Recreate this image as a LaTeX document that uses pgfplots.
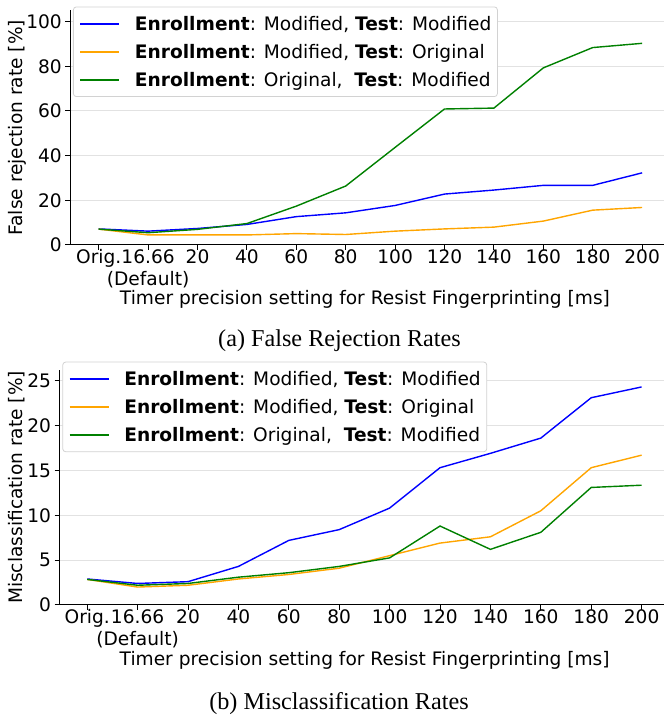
\documentclass[border=0pt]{standalone}
\usepackage{fontspec}
\setmainfont{DejaVu Sans}
\newfontfamily\capfont{Liberation Serif}
\usepackage{pgfplots}
\pgfplotsset{compat=1.18}
\definecolor{mblue}{RGB}{0,0,255}
\definecolor{morange}{RGB}{255,165,0}
\definecolor{mgreen}{RGB}{0,128,0}
\definecolor{gridc}{RGB}{226,226,226}
\definecolor{legc}{RGB}{210,210,210}
\newcommand\fs{\fontsize{18.6}{22}\selectfont}
\pgfplotsset{
  legend image code/.code={\draw[#1, line width=1.6pt] (0pt,0pt) -- (39pt,0pt);},
  every axis plot/.append style={line width=1.4pt},
}
\pgfplotsset{
 mystyle/.style={
  scale only axis, anchor=south west,
  axis x line*=bottom, axis y line*=left,
  axis line style={line width=1pt, black},
  tick align=outside, major tick length=4.7pt,
  every tick/.style={black, line width=1pt},
  ymajorgrids, grid style={gridc, line width=1pt},
  xtick={0,...,11},
  xticklabels={Orig.,{16.66\\(Default)},20,40,60,80,100,120,140,160,180,200},
  xticklabel style={align=center, yshift=4pt},
  /pgf/number format/assume math mode=true,
  tick label style={font=\fs},
  label style={font=\fs},
  legend cell align=left,
  legend style={anchor=north west, draw=legc, line width=0.8pt, rounded corners=3pt,
    fill=white,
    inner xsep=6pt, inner ysep=9pt, row sep=12.4pt, column sep=15pt,
    nodes={inner sep=0pt, font=\fs}},
 }
}
\begin{document}
\begin{tikzpicture}
\path[use as bounding box] (0,0) rectangle (664pt,717pt);
% top
\begin{axis}[mystyle, at={(70pt,472pt)}, width=594pt, height=234.5pt,
  xmin=-0.581, xmax=11.443, ymin=0, ymax=105,
  ytick={0,20,40,60,80,100},
  ylabel={False rejection rate [\%]},
  ylabel style={at={(axis description cs:-0.08,0.5)}, anchor=base},
  xlabel={Timer precision setting for Resist Fingerprinting [ms]},
  xlabel style={at={(axis description cs:0.4966,-0.254)}, anchor=base},
  legend style={at={(axis description cs:0.005,1.017)}},
]
\addplot[mblue] coordinates {(0,7.2)(1,6.2)(2,7.4)(3,9.2)(4,12.7)(5,14.4)(6,17.7)(7,22.8)(8,24.6)(9,26.7)(10,26.7)(11,32.3)};
\addlegendentry{\textbf{Enrollment}: Modified, \textbf{Test}: Modified}
\addplot[morange] coordinates {(0,7.1)(1,4.5)(2,4.5)(3,4.5)(4,5.1)(5,4.7)(6,6.2)(7,7.2)(8,8.0)(9,10.7)(10,15.6)(11,16.8)};
\addlegendentry{\textbf{Enrollment}: Modified, \textbf{Test}: Original}
\addplot[mgreen] coordinates {(0,7.1)(1,5.5)(2,7.0)(3,9.6)(4,17.4)(5,26.4)(6,43.7)(7,60.9)(8,61.3)(9,79.3)(10,88.4)(11,90.3)};
\addlegendentry{\textbf{Enrollment}: Original,~ \textbf{Test}: Modified}
\end{axis}
% bottom
\begin{axis}[mystyle, at={(59.3pt,112pt)}, width=604.7pt, height=235.1pt,
  xmin=-0.554, xmax=11.444, ymin=0, ymax=26.2,
  ytick={0,5,10,15,20,25},
  ylabel={Misclassification rate [\%]},
  ylabel style={at={(axis description cs:-0.0609,0.5)}, anchor=base},
  xlabel={Timer precision setting for Resist Fingerprinting [ms]},
  xlabel style={at={(axis description cs:0.505,-0.2586)}, anchor=base},
  legend style={at={(axis description cs:0.005,1.035)}},
]
\addplot[mblue] coordinates {(0,2.9)(1,2.4)(2,2.6)(3,4.3)(4,7.2)(5,8.4)(6,10.8)(7,15.3)(8,16.9)(9,18.6)(10,23.1)(11,24.3)};
\addlegendentry{\textbf{Enrollment}: Modified, \textbf{Test}: Modified}
\addplot[morange] coordinates {(0,2.85)(1,2.0)(2,2.2)(3,2.9)(4,3.4)(5,4.1)(6,5.5)(7,6.9)(8,7.6)(9,10.5)(10,15.3)(11,16.7)};
\addlegendentry{\textbf{Enrollment}: Modified, \textbf{Test}: Original}
\addplot[mgreen] coordinates {(0,2.85)(1,2.2)(2,2.4)(3,3.1)(4,3.6)(5,4.3)(6,5.25)(7,8.8)(8,6.2)(9,8.1)(10,13.1)(11,13.35)};
\addlegendentry{\textbf{Enrollment}: Original,~ \textbf{Test}: Modified}
\end{axis}
\node[anchor=base, font=\capfont\fontsize{24.2}{28}\selectfont] at (339.5pt,370pt) {(a) False Rejection Rates};
\node[anchor=base, font=\capfont\fontsize{24.2}{28}\selectfont] at (339pt,7pt) {(b) Misclassification Rates};
\end{tikzpicture}
\end{document}
